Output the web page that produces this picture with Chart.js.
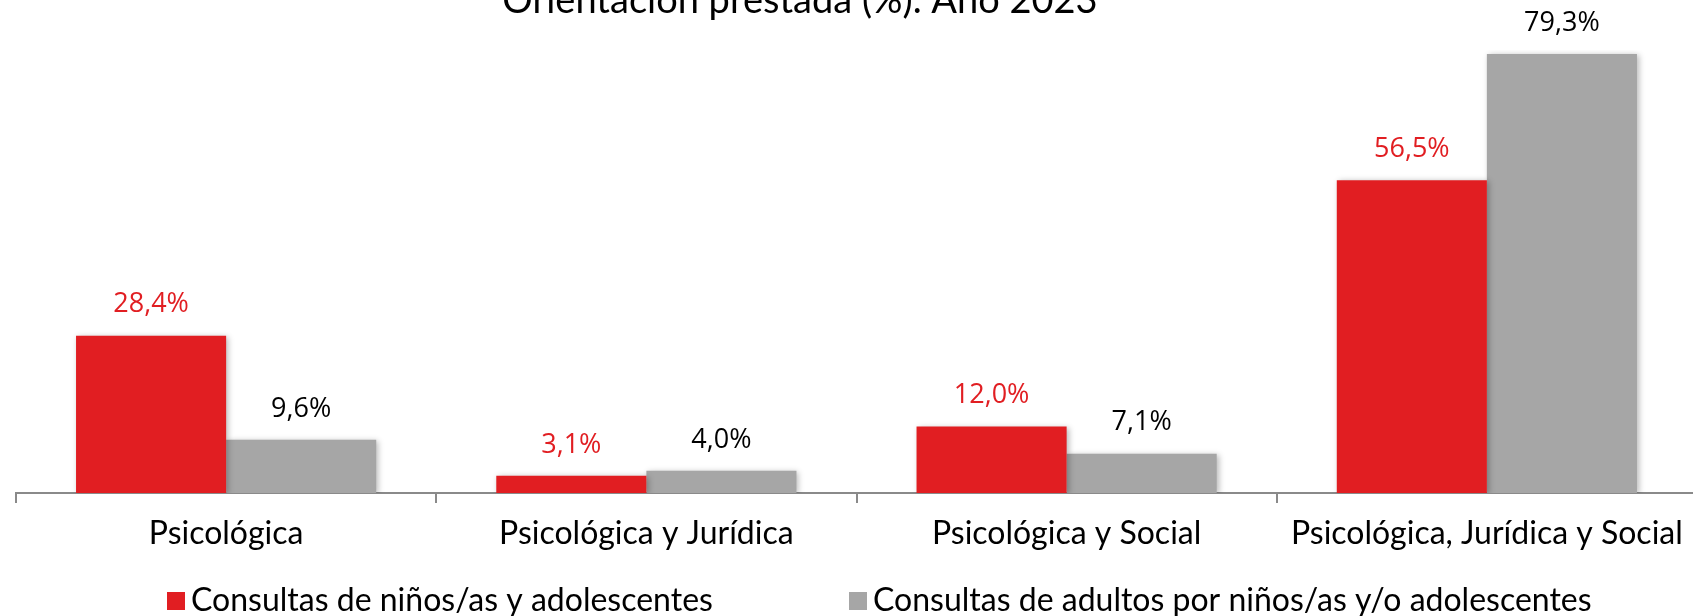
<!DOCTYPE html>
<html><head><meta charset="utf-8">
<script src="https://cdn.jsdelivr.net/npm/chart.js@4.4.1/dist/chart.umd.min.js"></script>
<style>
html,body{margin:0;padding:0;background:#fff;overflow:hidden;width:1693px;height:616px}
#wrap{position:absolute;left:0;top:0;width:1720px;height:616px}
</style>
</head><body><div id="wrap"><canvas id="c"></canvas></div>
<script>
const categories = ['Psicológica', 'Psicológica y Jurídica', 'Psicológica y Social', 'Psicológica, Jurídica y Social'];
const seriesNames = ['Consultas de niños/as y adolescentes', 'Consultas de adultos por niños/as y/o adolescentes'];
const ninos = [28.4, 3.1, 12.0, 56.5];
const adultos = [9.6, 4.0, 7.1, 79.3];
const titleText = 'Orientación prestada (%). Año 2023';

const RED = '#E11E22', GRAY = '#A6A6A6', AXIS = '#8a8a8a';
const LABEL_FONT = '"Lato", sans-serif';

const shadowPlugin = {
  id: 'shadow',
  beforeDatasetsDraw(chart) {
    const ctx = chart.ctx; ctx.save();
    ctx.shadowColor = 'rgba(0,0,0,0.28)'; ctx.shadowBlur = 6; ctx.shadowOffsetX = 2; ctx.shadowOffsetY = 1;
  },
  afterDatasetsDraw(chart) { chart.ctx.restore(); }
};

const valueLabels = {
  id: 'valueLabels',
  afterDatasetsDraw(chart) {
    const ctx = chart.ctx; ctx.save();
    ctx.font = '27px "Open Sans", sans-serif';
    ctx.textAlign = 'center'; ctx.textBaseline = 'middle';
    chart.data.datasets.forEach((ds, i) => {
      ctx.fillStyle = i === 0 ? RED : '#000';
      chart.getDatasetMeta(i).data.forEach((el, j) => {
        const t = ds.data[j].toFixed(1).replace('.', ',') + '%';
        ctx.fillText(t, el.x, el.y - 31);
      });
    });
    ctx.restore();
  }
};

const titleAndLegend = {
  id: 'titleAndLegend',
  afterDraw(chart) {
    const ctx = chart.ctx; ctx.save();
    ctx.fillStyle = '#000';
    ctx.font = '38px ' + LABEL_FONT;
    ctx.textAlign = 'center'; ctx.textBaseline = 'alphabetic';
    ctx.fillText(titleText, 800, 13);
    // legend
    ctx.font = '32px ' + LABEL_FONT;
    ctx.textAlign = 'left'; ctx.textBaseline = 'middle';
    const items = [{x: 167, c: RED, t: seriesNames[0]}, {x: 849, c: GRAY, t: seriesNames[1]}];
    items.forEach(it => {
      ctx.fillStyle = it.c; ctx.fillRect(it.x, 592, 18, 18);
      ctx.fillStyle = '#000'; ctx.fillText(it.t, it.x + 24, 601);
    });
    ctx.restore();
  }
};

new Chart(document.getElementById('c'), {
  type: 'bar',
  data: {
    labels: categories,
    datasets: [
      {label: seriesNames[0], data: ninos, backgroundColor: RED, barPercentage: 1, categoryPercentage: 300/420},
      {label: seriesNames[1], data: adultos, backgroundColor: GRAY, barPercentage: 1, categoryPercentage: 300/420}
    ]
  },
  options: {
    responsive: true, maintainAspectRatio: false, animation: false,
    layout: {padding: {top: 50, left: 16, right: 23, bottom: 0}},
    plugins: {legend: {display: false}, title: {display: false}, tooltip: {enabled: false}},
    scales: {
      x: {
        afterFit(scale) { scale.height = 123; },
        grid: {display: true, drawOnChartArea: false, drawTicks: true, tickLength: 10, color: AXIS, lineWidth: 2},
        border: {display: true, color: AXIS, width: 2},
        ticks: {color: '#000', font: {family: 'Lato', size: 32}, padding: 11, maxRotation: 0, autoSkip: false}
      },
      y: {display: false, min: 0, max: 80}
    }
  },
  plugins: [shadowPlugin, valueLabels, titleAndLegend]
});
</script>
</body></html>
